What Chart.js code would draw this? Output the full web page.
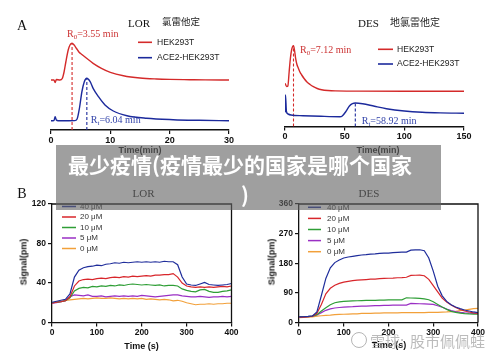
<!DOCTYPE html>
<html><head><meta charset="utf-8">
<script src="https://cdn.jsdelivr.net/npm/chart.js@4.4.1/dist/chart.umd.min.js"></script>
<style>
html,body{margin:0;padding:0;background:#fff;}
#wrap{position:relative;width:500px;height:357px;overflow:hidden;background:#fff;}
canvas{position:absolute;}
.t{position:absolute;white-space:nowrap;line-height:1;}
.c{transform:translate(-50%,-50%);}
.serif{font-family:"Liberation Serif","DejaVu Serif",serif;color:#111;}
.sans{font-family:"Liberation Sans",Arial,sans-serif;font-weight:bold;color:#111;}
.cjk{font-family:"Noto Sans CJK SC",sans-serif;color:#222;}
</style></head>
<body><div id="wrap">
<canvas id="cA1" width="250" height="150" style="left:0;top:0"></canvas>
<canvas id="cA2" width="250" height="150" style="left:250px;top:0"></canvas>
<canvas id="cB1" width="250" height="167" style="left:0;top:190px"></canvas>
<canvas id="cB2" width="250" height="167" style="left:250px;top:190px"></canvas>

<div class="t c serif" style="left:22px;top:26px;font-size:14px">A</div>
<div class="t serif" style="left:128px;top:18px;font-size:11px">LOR</div>
<div class="t cjk" style="left:162px;top:17px;font-size:9.5px">氯雷他定</div>
<div class="t serif" style="left:358px;top:17.5px;font-size:11px">DES</div>
<div class="t cjk" style="left:390px;top:16.5px;font-size:10px">地氯雷他定</div>
<div class="t c sans" style="left:140px;top:150px;font-size:9px">Time(min)</div>
<div class="t c sans" style="left:378px;top:150px;font-size:9px">Time(min)</div>

<div class="t c serif" style="left:22px;top:194px;font-size:14px">B</div>
<div class="t c serif" style="left:143.5px;top:193px;font-size:11px">LOR</div>
<div class="t c serif" style="left:369px;top:193px;font-size:11px">DES</div>
<div class="t c sans" style="left:24px;top:262px;font-size:9px;transform:translate(-50%,-50%) rotate(-90deg)">Signal(pm)</div>
<div class="t c sans" style="left:272px;top:262px;font-size:9px;transform:translate(-50%,-50%) rotate(-90deg)">Signal(pm)</div>
<div class="t c sans" style="left:141.5px;top:345.5px;font-size:9px">Time (s)</div>
<div class="t c sans" style="left:389px;top:345px;font-size:9px">Time (s)</div>

<div style="position:absolute;left:56px;top:145px;width:385px;height:65px;background:rgba(100,100,100,0.62)"></div>
<div class="t" style="left:68px;top:154px;font-family:'Noto Sans CJK SC';font-weight:bold;font-size:21px;color:#fff">最少疫情(疫情最少的国家是哪个国家</div>
<div class="t" style="left:241px;top:184px;font-family:'Noto Sans CJK SC';font-weight:bold;font-size:21px;color:#fff">)</div>

<div style="position:absolute;left:351px;top:332px;width:14px;height:14px;border:1.5px solid rgba(150,150,150,0.7);border-radius:50%"></div>
<div class="t" style="left:370px;top:333px;font-family:'Noto Sans CJK SC';font-size:15px;color:rgba(150,150,150,0.65)">雪球:</div>
<div class="t" style="left:410px;top:333px;font-family:'Noto Sans CJK SC';font-size:15px;color:rgba(150,150,150,0.65)">股市佩佩蛙</div>
</div>
<script>
// ---------- Panel A data (chromatograms, arbitrary signal units) ----------
const lorHekTime = [0, 0.5, 0.7, 0.9, 1.5, 1.9, 2.2, 2.5, 2.9, 3.2, 3.55, 3.9, 4.3, 4.7, 5.2, 6.0, 7.1, 8.5, 10, 12.2, 15, 17.8, 20, 23.4, 26, 30];
const lorHekSignal = [50, 50, 47.5, 50.5, 50, 51.5, 58, 68, 80, 85, 86.7, 85, 81.5, 78, 75.5, 71.7, 66.7, 61.7, 57.7, 54.3, 52, 51, 50.6, 50.3, 50.1, 50];
const lorAceTime = [0, 0.5, 0.7, 0.9, 1.2, 2, 3, 4.0, 4.4, 4.8, 5.2, 5.6, 6.04, 6.6, 7.1, 8.0, 9.1, 10.5, 12.8, 16.1, 20.6, 25, 30];
const lorAceSignal = [9.3, 9.5, 13.3, 10, 9.3, 9.3, 9.3, 9.4, 11, 22, 38, 48, 51.7, 48.3, 41.7, 33.3, 25, 19, 14.3, 11.7, 10.3, 9.7, 9.3];
const lorRetention = [3.55, 6.04];

const desHekTime = [0, 1.4, 2.4, 3.5, 4.5, 5.6, 7.12, 8, 8.9, 10, 11.2, 12.5, 14, 16, 18.2, 21, 23.8, 27, 30.7, 36, 42, 60, 100, 150];
const desHekSignal = [43.2, 40, 40.5, 55, 68, 77, 80.8, 76, 68.2, 62, 58.2, 54.5, 51.5, 48, 44.8, 42, 39.8, 38, 36.8, 36, 35.6, 35.4, 35.3, 35.3];
const desAceTime = [0, 0.4, 1.2, 2.5, 5, 15, 30, 46, 48, 51, 54, 56.5, 58.92, 65, 75, 85, 100, 115, 130, 150];
const desAceSignal = [14, 31.5, 15, 12.5, 11.5, 10.8, 10.2, 9.8, 10.5, 15, 20.5, 22.8, 23.5, 22.8, 20.2, 17.8, 15.5, 14.2, 13.6, 13.3];
const desRetention = [7.12, 58.92];

const cellLines = ['HEK293T', 'ACE2-HEK293T'];
const aTicksLor = [0, 10, 20, 30];
const aTicksDes = [0, 50, 100, 150];

// ---------- Panel B data (binding signal, pm) ----------
const timeS = [0,10,20,30,40,50,60,70,80,90,100,110,120,130,140,150,160,170,180,190,200,210,220,230,240,250,260,270,280,290,300,310,320,330,340,350,360,370,380,390,400];
const concLabels = ['40 μM', '20 μM', '10 μM', '5 μM', '0 μM'];

const lor40 = [20.5,21.5,22.5,23.5,29,46,53,55.5,56.5,57,58,57.5,59,59.5,60.5,60,61,60.5,61,61.5,61,61.5,61,61.5,61,62,61.5,61.5,58.5,46,39,38,37.5,39,40.5,38.5,38,37.5,38,38.5,39.5];
const lor20 = [19.5,20.5,21,22,26,37,42,43.5,44,43.5,44.5,45,44.5,45.5,46,45.5,46.5,46,47,46.5,47,47.5,47,48,48,48.5,48.5,49.5,46,40,37,36,35.5,36,35.5,36,35.5,36,36.5,36,37];
const lor10 = [20,20.5,21,22,25,32,34.5,35.5,35,36.5,36,37,36.5,37.5,37,38,37.5,38.5,39,38.5,38,38.5,38,37.5,38,37,37.5,37.5,37,34,32.5,31.5,31,33,33.5,31.5,30.5,30.5,31.5,32,33];
const lor5 = [19.5,20,21,22,26,28,27.5,27,28,26.5,26.5,27,26,26.5,27,26.5,27,26.5,27,26.5,27.5,27,26.5,26,26.5,27,27.5,28,28,27,26.5,26,26,26.5,26,25.5,26,26,26.5,26,26.5];
const lor0 = [20,21,21.5,22.5,23,23.5,24,24.5,24,24.5,25,24.5,24.5,25,24.5,24,24.5,24,24.5,24,24.5,23.5,24,23.5,23,23.5,23,22,22.5,21.5,20,19,18,18.5,18.5,19,18.5,19,19,19.5,19.5];

const des40 = [17,17.5,18.5,20,32,82,134,166,182,190,196,199,201,203,205,206,207.5,208.5,210,210.5,211,212,213,213.5,214,220,220.5,221,218,196,156,110,81,64,54,47,42,38,35,32,30];
const des20 = [16,16.5,17.5,19,28,55,87,104,113,119,122.5,125,127,128.5,129.5,130.5,131.5,132,133,134,134.5,135,136,136.5,137.5,143,143.5,144,142,131,112,93,74,62,53,45.5,39.5,35,32,29.5,28];
const des10 = [17,17.5,18,19.5,24,35,45,54,60,62.5,64,65,65.5,66,66.5,67,67.5,67.5,68,68,68.5,68.5,68.5,69,75,74.5,74,73.5,72,69,63,55,47,40,34,31,28.5,27,26,25.5,25];
const des5 = [16.5,17,17.5,19,23,30,37,41.5,44,45.5,46.5,47.5,48,49,49.5,50,50.5,51,51.5,52,52,52.5,52.5,53,53,58,57.5,57,56.5,56,55,51,46.5,41,36,33,31,29.5,28.5,28,27.5];
const des0 = [15,15.5,16,17,19.5,20.5,21.5,22.5,24,24.5,25,25.5,26,26.5,27.5,27.5,28,28.5,28.5,29,29,29.5,29.5,30,30,30,30,30,30,30.5,30.5,31,31.5,32,33,34,36,38,40,42,43];

const bTicksLor = [0, 40, 80, 120];
const bTicksDes = [0, 90, 180, 270, 360];

// ---------- styling ----------
const RED = '#d42a2a', BLUE = '#1c2a9c';
const concColors = ['#1f2d9b', '#d8262b', '#2f9e36', '#9a2fc4', '#f2a03a'];
const SANS = '"Liberation Sans", Arial, sans-serif';
const SERIF = '"Liberation Serif", "DejaVu Serif", serif';
Chart.defaults.devicePixelRatio = 1;
Chart.defaults.font.family = SANS;
Chart.defaults.color = '#111';

const pts = (xs, ys) => xs.map((x, i) => ({x, y: ys[i]}));
const valueAt = (xs, ys, t) => ys[xs.indexOf(t)];

const legendPlugin = {
  id: 'mylegend',
  afterDraw(chart, args, o) {
    if (!o || o.x === undefined) return;
    const ctx = chart.ctx;
    let k = 0;
    chart.data.datasets.forEach(ds => {
      if (!ds.label) return;
      const y = o.y + k * o.dy;
      ctx.save();
      ctx.strokeStyle = ds.borderColor; ctx.lineWidth = o.lw || 1.6;
      ctx.beginPath(); ctx.moveTo(o.x, y); ctx.lineTo(o.x + o.len, y); ctx.stroke();
      ctx.fillStyle = o.color || '#222'; ctx.font = o.font; ctx.textBaseline = 'middle';
      ctx.fillText(ds.label, o.x + o.len + o.gap, y);
      ctx.restore();
      k++;
    });
  }
};
const annotPlugin = {
  id: 'rlabels',
  afterDatasetsDraw(chart, args, o) {
    if (!o || !o.items) return;
    const ctx = chart.ctx, xs = chart.scales.x, ys = chart.scales.y;
    o.items.forEach(it => {
      let x = xs.getPixelForValue(it.t) + it.dx;
      const y = (it.atAxis ? ys.getPixelForValue(0) : ys.getPixelForValue(it.v)) + it.dy;
      ctx.save(); ctx.fillStyle = it.color; ctx.textBaseline = 'middle';
      ctx.font = '10px ' + SERIF; ctx.fillText('R', x, y); x += ctx.measureText('R').width;
      ctx.font = '7px ' + SERIF; ctx.fillText(it.sub, x, y + 3); x += ctx.measureText(it.sub).width;
      ctx.font = '10px ' + SERIF; ctx.fillText('=' + it.t.toFixed(2) + ' min', x, y);
      ctx.restore();
    });
  }
};
const framePlugin = {
  id: 'frame',
  afterDraw(chart, args, o) {
    if (!o || !o.on) return;
    const a = chart.chartArea, ctx = chart.ctx;
    ctx.save(); ctx.strokeStyle = '#111'; ctx.lineWidth = 1.3;
    ctx.beginPath(); ctx.moveTo(a.left, a.top); ctx.lineTo(a.right, a.top); ctx.lineTo(a.right, a.bottom); ctx.stroke();
    ctx.restore();
  }
};
Chart.register(legendPlugin, annotPlugin, framePlugin);

function chromChart(id, hekT, hekS, aceT, aceS, ret, ticks, ymax, pad, legendPos, labels) {
  const rHek = valueAt(hekT, hekS, ret[0]);
  const rAce = valueAt(aceT, aceS, ret[1]);
  return new Chart(document.getElementById(id), {
    type: 'line',
    data: { datasets: [
      { label: cellLines[0], data: pts(hekT, hekS), borderColor: RED, borderWidth: 1.4, pointRadius: 0, cubicInterpolationMode: 'monotone' },
      { label: cellLines[1], data: pts(aceT, aceS), borderColor: BLUE, borderWidth: 1.4, pointRadius: 0, cubicInterpolationMode: 'monotone' },
      { data: [{x: ret[0], y: 0}, {x: ret[0], y: rHek}], borderColor: RED, borderWidth: 1.1, borderDash: [3, 2], pointRadius: 0 },
      { data: [{x: ret[1], y: 0}, {x: ret[1], y: rAce}], borderColor: BLUE, borderWidth: 1.1, borderDash: [3, 2], pointRadius: 0 }
    ]},
    options: {
      responsive: false, animation: false, events: [],
      layout: { padding: pad },
      plugins: { legend: { display: false }, tooltip: { enabled: false },
        mylegend: legendPos,
        rlabels: { items: [
          Object.assign({ t: ret[0], v: rHek, sub: '0', color: '#cc3333' }, labels[0]),
          Object.assign({ t: ret[1], v: rAce, sub: 't', color: '#3344aa' }, labels[1])
        ]}
      },
      scales: {
        x: { type: 'linear', min: ticks[0], max: ticks[ticks.length - 1],
          afterFit(s) { s.height = 20; },
          afterBuildTicks(s) { s.ticks = ticks.map(v => ({value: v})); },
          border: { display: true, color: '#111', width: 1.5 },
          grid: { drawOnChartArea: false, drawTicks: true, tickLength: 4, color: '#111', lineWidth: 1.2 },
          ticks: { color: '#111', padding: 1, maxRotation: 0, font: { size: 9, weight: 'bold' } } },
        y: { display: false, min: 0, max: ymax }
      }
    }
  });
}

chromChart('cA1', lorHekTime, lorHekSignal, lorAceTime, lorAceSignal, lorRetention, aTicksLor, 100,
  { left: 51, right: 21, top: 30, bottom: 0 },
  { x: 138, y: 42.3, dy: 15.4, len: 14, gap: 5, font: '8.6px ' + SANS, color: '#222' },
  [ { dx: -5, dy: -9 }, { dx: 4, dy: -9.5, atAxis: true } ]);

chromChart('cA2', desHekTime, desHekSignal, desAceTime, desAceSignal, desRetention, aTicksDes, 96.5,
  { left: 35, right: 36, top: 30, bottom: 3.5 },
  { x: 128, y: 49.3, dy: 14.7, len: 15, gap: 4, font: '8.6px ' + SANS, color: '#222' },
  [ { dx: 6.5, dy: 4.5 }, { dx: 6.4, dy: -5, atAxis: true } ]);

function bindChart(id, series, ticks, pad, legendPos) {
  return new Chart(document.getElementById(id), {
    type: 'line',
    data: { labels: timeS, datasets: series.map((s, i) => ({
      label: concLabels[i], data: pts(timeS, s), borderColor: concColors[i], borderWidth: 1.2, pointRadius: 0, tension: 0
    })) },
    options: {
      responsive: false, animation: false, events: [],
      layout: { padding: pad },
      plugins: { legend: { display: false }, tooltip: { enabled: false }, mylegend: legendPos, frame: { on: true } },
      scales: {
        x: { type: 'linear', min: 0, max: 400,
          afterFit(s) { s.height = 20; },
          afterBuildTicks(s) { s.ticks = [0, 100, 200, 300, 400].map(v => ({value: v})); },
          border: { display: true, color: '#111', width: 1.3 },
          grid: { drawOnChartArea: false, drawTicks: true, tickLength: 4, color: '#111', lineWidth: 1.2 },
          ticks: { color: '#111', padding: 1, maxRotation: 0, font: { size: 8.5, weight: 'bold' } } },
        y: { min: ticks[0], max: ticks[ticks.length - 1],
          afterFit(s) { s.width = 22; },
          afterBuildTicks(s) { s.ticks = ticks.map(v => ({value: v})); },
          border: { display: true, color: '#111', width: 1.3 },
          grid: { drawOnChartArea: false, drawTicks: true, tickLength: 4, color: '#111', lineWidth: 1.2 },
          ticks: { color: '#111', padding: 2, font: { size: 8.5, weight: 'bold' } } }
      }
    }
  });
}

bindChart('cB1', [lor40, lor20, lor10, lor5, lor0], bTicksLor,
  { left: 30, right: 18.5, top: 14, bottom: 14.5 },
  { x: 62, y: 16.5, dy: 10.5, len: 14, gap: 4, font: '8px ' + SANS, color: '#333', lw: 1.5 });
bindChart('cB2', [des40, des20, des10, des5, des0], bTicksDes,
  { left: 27, right: 22, top: 14, bottom: 14.5 },
  { x: 58, y: 17.3, dy: 11.1, len: 13, gap: 6, font: '8px ' + SANS, color: '#333', lw: 1.5 });
</script>
</body></html>
